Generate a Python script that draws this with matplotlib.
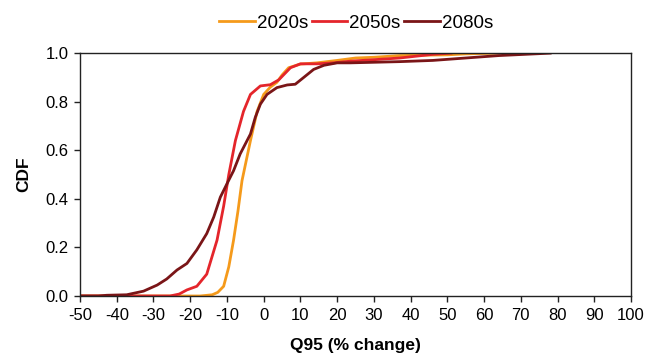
import numpy as np
import matplotlib
matplotlib.use("Agg")
import matplotlib.pyplot as plt

plt.rcParams['font.family'] = ['Liberation Sans', 'DejaVu Sans']
plt.rcParams['axes.unicode_minus'] = False

# values (Q95 % change vs cumulative fraction)
x_2020s = [-50, -17.3, -14, -12.5, -10.9, -9.5, -8.2, -7, -5.9, -3.6, -1.8, 0, 1.8, 3.6, 5, 6.8, 10, 14.5, 20, 25, 30, 37, 50, 55, 64]
cdf_2020s = [0, 0, 0.005, 0.015, 0.04, 0.12, 0.23, 0.35, 0.475, 0.64, 0.76, 0.83, 0.86, 0.88, 0.91, 0.94, 0.955, 0.96, 0.97, 0.98, 0.983, 0.99, 0.993, 0.997, 1.0]

x_2050s = [-50, -25.5, -23, -20.9, -18.2, -15.5, -12.7, -10.9, -9.5, -7.7, -5.5, -3.6, -0.9, 1.8, 4.1, 7.3, 10, 14.5, 19, 23.6, 30, 37, 46, 51]
cdf_2050s = [0, 0, 0.008, 0.025, 0.04, 0.09, 0.23, 0.37, 0.5, 0.64, 0.76, 0.83, 0.865, 0.87, 0.89, 0.94, 0.956, 0.956, 0.96, 0.967, 0.973, 0.98, 0.995, 1.0]

x_2080s = [-50, -45, -42.7, -37.3, -32.7, -29, -26.4, -23.6, -20.9, -18.2, -15.5, -13.6, -11.8, -10, -8.2, -6.4, -3.6, -2.3, -0.9, 0.9, 3.6, 6.4, 8.6, 10.9, 13.6, 16.4, 20, 23.6, 37, 46, 55, 64, 78]
cdf_2080s = [0, 0, 0.003, 0.005, 0.02, 0.045, 0.07, 0.107, 0.134, 0.19, 0.257, 0.325, 0.407, 0.462, 0.516, 0.585, 0.667, 0.735, 0.79, 0.83, 0.858, 0.869, 0.872, 0.9, 0.933, 0.95, 0.96, 0.96, 0.965, 0.97, 0.98, 0.99, 1.0]

labels = ['2020s', '2050s', '2080s']
colors = ['#F59A1B', '#E4252B', '#7A1517']

fig = plt.figure(figsize=(6.49, 3.63), dpi=100)
ax = fig.add_axes([0.1233, 0.1846, 0.849, 0.669])

for xs, ys, lab, c in zip([x_2020s, x_2050s, x_2080s], [cdf_2020s, cdf_2050s, cdf_2080s], labels, colors):
    ax.plot(xs, ys, color=c, lw=2.0, label=lab)

ax.set_xlim(-50, 100)
ax.set_ylim(0, 1.0)
ax.set_xticks(np.arange(-50, 101, 10))
ax.set_yticks(np.arange(0, 1.01, 0.2))
ax.set_yticklabels(['%.1f' % v for v in np.arange(0, 1.01, 0.2)])
ax.tick_params(labelsize=12, direction='out', length=4.3, width=1, color='#222222', pad=4)
for s in ax.spines.values():
    s.set_linewidth(1.0)
    s.set_color('#222222')

ax.set_xlabel('Q95 (% change)', fontsize=12.5, fontweight='bold', labelpad=11)
ax.set_ylabel('CDF', fontsize=12.5, fontweight='bold', labelpad=10)

fig.legend(loc='center', bbox_to_anchor=(356 / 649, 1 - 23 / 363), ncol=3, frameon=False,
           fontsize=13.5, handlelength=1.9, handletextpad=0.1, columnspacing=0.2)

fig.savefig('out.png', dpi=100)
